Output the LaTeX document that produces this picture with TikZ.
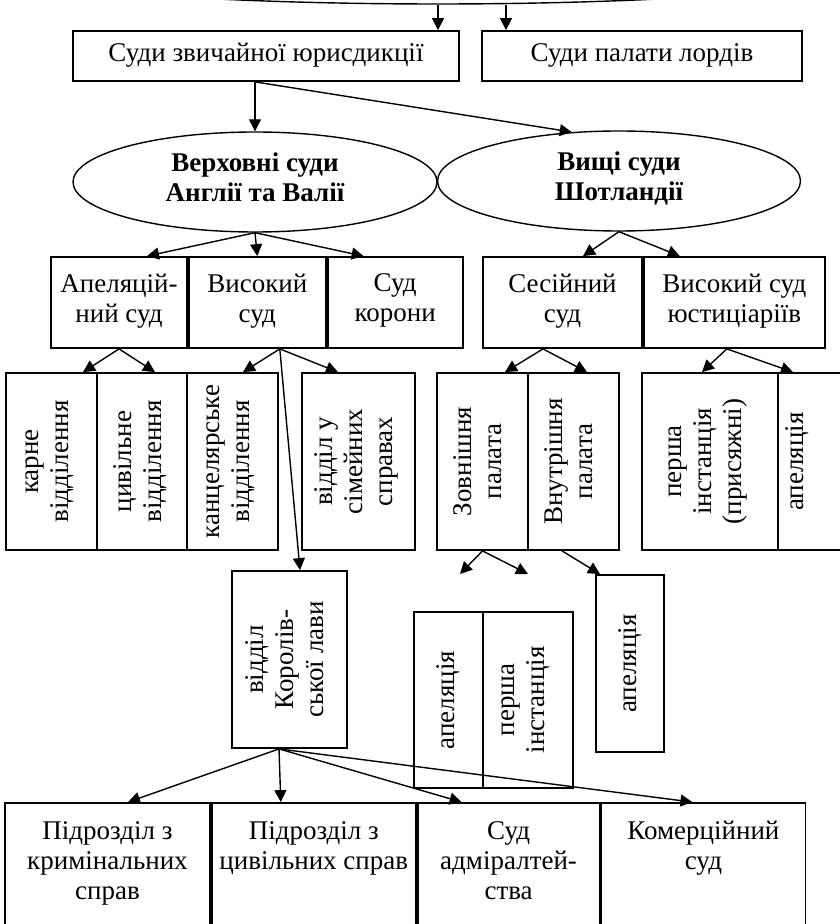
\documentclass[tikz,border=0pt]{standalone}
\usepackage{fontspec}
\setmainfont{Liberation Serif}
\usepackage{tikz}
\usetikzlibrary{arrows.meta,calc,positioning,shapes.geometric}
\newcommand{\courtfont}{\fontsize{13.5}{15}\selectfont}
\tikzstyle{cell} = [draw, rectangle, line width=0.9pt, align=center,
    inner sep=2pt, minimum height=45.5pt,
    execute at begin node=\strut, execute at end node=\strut]
% rotated cells: local east is the top edge on the page
\tikzstyle{vcell} = [cell, rotate=90, minimum width=88.5pt]
\tikzstyle{court} = [draw, ellipse, line width=0.7pt, align=center,
    font=\courtfont\bfseries, minimum width=182pt, minimum height=50pt, inner sep=0pt,
    execute at begin node=\strut, execute at end node=\strut]
\tikzstyle{link} = [line width=0.7pt, -{Triangle[length=6pt,width=6pt]}]

\begin{document}
\begin{tikzpicture}[x=0.5pt, y=-0.5pt, font=\courtfont]
\useasboundingbox (0,0) rectangle (839,924);

% top level, mostly off the page
\node [court, minimum width=505pt] (sys) at (438,-46) {};

\node [cell, minimum width=193pt, minimum height=25pt] (zv) at (266,56) {Суди звичайної юрисдикції};
\node [cell, minimum width=160pt, minimum height=25pt] (lordy) at (642,56) {Суди палати лордів};

\node [court] (angl) at (255,182) {Верховні суди\\Англії та Валії};
\node [court, minimum width=181.5pt] (shotl) at (619,181) {Вищі суди\\Шотландії};

% second row
\node [cell, minimum width=68pt] (apel) at (119,302.5) {Апеляцій-\\ний суд};
\node [cell, minimum width=68.5pt, right=0pt of apel] (vys) {Високий\\суд};
\node [cell, minimum width=67.5pt, right=0pt of vys] (korony) {Суд\\корони};
\node [cell, minimum width=79.5pt] (ses) at (562.5,302.5) {Сесійний\\суд};
\node [cell, minimum width=90.5pt, right=0pt of ses] (yust) {Високий суд\\юстиціаріїв};

% divisions
\node [vcell, minimum height=45.5pt] (karne) at (51.5,461.5) {карне\\відділення};
\node [vcell, minimum height=45pt] (tsyv) at (142,461.5) {цивільне\\відділення};
\node [vcell, minimum height=45.5pt] (kants) at (232.5,461.5) {канцелярське\\відділення};
\node [vcell, minimum height=56.5pt] (simei) at (358.5,461.5) {відділ у\\сімейних\\справах};
\node [vcell, minimum height=45.5pt] (zovn) at (482.5,461.5) {Зовнішня\\палата};
\node [vcell, minimum height=45.5pt] (vnutr) at (573.5,461.5) {Внутрішня\\палата};
\node [vcell, minimum height=68pt] (persha) at (710,461.5) {перша\\інстанція\\(присяжні)};
\node [vcell, minimum height=46pt, text depth=31pt] (apel2) at (824,461.5) {апеляція};

\node [vcell, minimum height=57.5pt] (korol) at (289.5,659.5) {відділ\\Королів-\\ської лави};
\node [vcell, minimum width=88pt, minimum height=34.5pt] (apel4) at (448.5,700) {апеляція};
\node [vcell, minimum width=88pt, minimum height=45pt] (persh2) at (528,700) {перша\\інстанція};
\node [vcell, minimum height=34pt] (apel3) at (630,663.5) {апеляція};

% bottom row
\node [cell, minimum width=102.5pt, minimum height=62pt] (krym) at (107.5,865) {Підрозділ з\\кримінальних\\справ};
\node [cell, minimum width=102pt, minimum height=62pt, right=0pt of krym] (tsyvsp) {Підрозділ з\\цивільних справ\\\strut};
\node [cell, minimum width=91pt, minimum height=62pt, right=0pt of tsyvsp] (admir) {Суд\\адміралтей-\\ства};
\node [cell, minimum width=102pt, minimum height=62pt, right=0pt of admir] (komerts) {Комерційний\\суд\\\strut};

% arrows
\draw [link] (sys.south) -- (sys.south |- zv.north);
\coordinate (sysr) at ([xshift=34pt]sys.south);
\draw [link] (sysr) -- (sysr |- lordy.north);

\coordinate (zvout) at ([xshift=-5.5pt]zv.south);
\draw [link] (zvout) -- (angl.north);
\draw [link] (zvout) -- (shotl.134);

\draw [link] (angl.south) -- ([xshift=14pt]apel.north);
\draw [link] (angl.south) -- (vys.north);
\draw [link] (angl.south) -- ([xshift=-15.75pt]korony.north);
\draw [link] (shotl.south) -- ([xshift=10.25pt]ses.north);
\draw [link] (shotl.south) -- ([xshift=-27.25pt]yust.north);

\draw [link] (apel.south) -- ([xshift=15.75pt]karne.east);
\draw [link] (apel.south) -- ([xshift=6.5pt]tsyv.east);

\coordinate (vysout) at ([xshift=11.25pt]vys.south);
\draw [link] (vysout) -- ([xshift=5.25pt]kants.east);
\draw [link] (vysout) -- ([xshift=-10.25pt]simei.east);
\draw [link] (vysout) -- ([xshift=5.25pt]korol.east);

\coordinate (sesout) at ([xshift=-9.75pt]ses.south);
\draw [link] (sesout) -- ([xshift=11.25pt]zovn.east);
\draw [link] (sesout) -- ([xshift=6.75pt]vnutr.east);

\coordinate (yustout) at ([xshift=-3.75pt]yust.south);
\draw [link] (yustout) -- ([xshift=-4pt]persha.east);
\draw [link] (yustout) -- ([xshift=-15.5pt]apel2.east);

\coordinate (zl) at (460,574);
\coordinate (zr) at (528,574);
\draw [link] (zovn.west) -- (zl);
\draw [link] (zovn.west) -- (zr);
\draw [link] ([xshift=-5.75pt]vnutr.west) -- ([xshift=-15pt]apel3.east);

\coordinate (korout) at ([xshift=-5.25pt]korol.west);
\draw [link] (korout) -- ([xshift=10.25pt]krym.north);
\draw [link] (korout) -- ([xshift=-16.5pt]tsyvsp.north);
\draw [link] (korout) -- ([xshift=-23.5pt]admir.north);
\draw [link] (korout) -- ([xshift=-5.5pt]komerts.north);
\end{tikzpicture}
\end{document}
